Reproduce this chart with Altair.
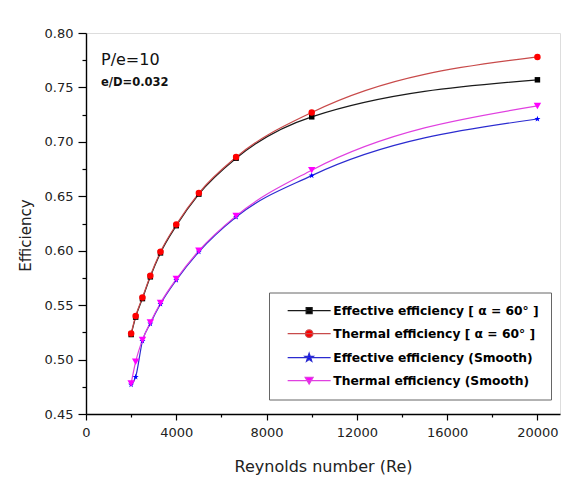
import altair as alt
import pandas as pd

# ---------------- data ----------------
re_values = [2000, 2200, 2500, 2850, 3300, 4000, 5000, 6650, 10000, 20000]
effective_60 = [0.523, 0.539, 0.556, 0.576, 0.598, 0.623, 0.652, 0.685, 0.723, 0.757]
thermal_60 = [0.524, 0.540, 0.557, 0.577, 0.599, 0.624, 0.653, 0.686, 0.727, 0.778]
effective_smooth = [0.477, 0.484, 0.517, 0.533, 0.551, 0.573, 0.599, 0.631, 0.669, 0.721]
thermal_smooth = [0.478, 0.498, 0.518, 0.534, 0.552, 0.574, 0.600, 0.632, 0.674, 0.733]

series_names = [
    "Effective efficiency [ α = 60° ]",
    "Thermal efficiency [ α = 60° ]",
    "Effective efficiency (Smooth)",
    "Thermal efficiency (Smooth)",
]
series_values = [effective_60, thermal_60, effective_smooth, thermal_smooth]

x_major_ticks = [0, 4000, 8000, 12000, 16000, 20000]
x_minor_ticks = [2000, 6000, 10000, 14000, 18000]
y_major_ticks = [0.45, 0.50, 0.55, 0.60, 0.65, 0.70, 0.75, 0.80]
y_minor_ticks = [0.475, 0.525, 0.575, 0.625, 0.675, 0.725, 0.775]

note_texts = ["P/e=10", "e/D=0.032"]
note_x = [664, 664]
note_y = [0.7755, 0.7543]

# ---------------- styles ----------------
FONT = "DejaVu Sans"
line_colors = ["#1a1a1a", "#c84a4a", "#2b2bd0", "#e040e0"]
marker_colors = ["#000000", "#ff0000", "#0000ff", "#ff00ff"]
STAR = ("M0,-1L0.235,-0.324L0.951,-0.309L0.38,0.124L0.588,0.809L0,0.4"
        "L-0.588,0.809L-0.38,0.124L-0.951,-0.309L-0.235,-0.324Z")
marker_shapes = ["square", "circle", STAR, "triangle-down"]
marker_sizes = [30, 42, 40, 55]

LINE = "M-4.3,0H4.3"
legend_paths = [
    LINE + "M-0.6,-0.6H0.6V0.6H-0.6Z",
    LINE + "M0.75,0A0.75,0.75,0,1,1,-0.75,0A0.75,0.75,0,1,1,0.75,0Z",
    LINE + "M0,-0.9L0.212,-0.292L0.856,-0.278L0.342,0.112L0.529,0.728L0,0.36"
           "L-0.529,0.728L-0.342,0.112L-0.856,-0.278L-0.212,-0.292Z",
    LINE + "M-0.8,-0.65H0.8L0,0.7Z",
]

rows = []
for name, vals in zip(series_names, series_values):
    for r, v in zip(re_values, vals):
        rows.append({"Re": r, "eff": v, "series": name})
df = pd.DataFrame(rows)
notes = pd.DataFrame({"x": note_x, "y": note_y, "text": note_texts})

xscale = alt.Scale(domain=[0, 21000], nice=False, zero=False)
yscale = alt.Scale(domain=[0.45, 0.80], nice=False, zero=False)

x_major_axis = alt.Axis(
    values=x_major_ticks, orient="bottom", format="d", grid=False,
    tickSize=6, tickColor="#000", tickWidth=1.2, domainColor="#000", domainWidth=1.4,
    labelFont=FONT, labelFontSize=13, labelColor="#222", labelPadding=6, labelFlush=False,
    title="Reynolds number (Re)", titleFont=FONT, titleFontSize=16,
    titleFontWeight="normal", titleColor="#222", titlePadding=19,
)
y_major_axis = alt.Axis(
    values=y_major_ticks, orient="left", format=".2f", grid=False,
    tickSize=8, tickColor="#000", tickWidth=1.2, domainColor="#000", domainWidth=1.4,
    labelFont=FONT, labelFontSize=13, labelColor="#222", labelPadding=5, labelFlush=False,
    title="Efficiency", titleFont=FONT, titleFontSize=15,
    titleFontWeight="normal", titleColor="#222", titlePadding=11, titleY=202,
)
x_minor_axis = alt.Axis(values=x_minor_ticks, orient="bottom", labels=False, domain=False,
                        grid=False, tickSize=3, tickColor="#000", tickWidth=1.2, title=None)
y_minor_axis = alt.Axis(values=y_minor_ticks, orient="left", labels=False, domain=False,
                        grid=False, tickSize=4, tickColor="#000", tickWidth=1.2, title=None)

base = alt.Chart(df)
layers = []

for i, (name, lc) in enumerate(zip(series_names, line_colors)):
    layers.append(
        base.transform_filter(alt.datum.series == name)
        .mark_line(color=lc, strokeWidth=1.2, interpolate="monotone")
        .encode(
            x=alt.X("Re:Q", scale=xscale, axis=x_major_axis if i == 0 else None),
            y=alt.Y("eff:Q", scale=yscale, axis=y_major_axis if i == 0 else None),
        )
    )

for name, mc, shp, sz in zip(series_names, marker_colors, marker_shapes, marker_sizes):
    layers.append(
        base.transform_filter(alt.datum.series == name)
        .mark_point(shape=shp, filled=True, size=sz, color=mc, opacity=1, strokeWidth=0)
        .encode(
            x=alt.X("Re:Q", scale=xscale, axis=None),
            y=alt.Y("eff:Q", scale=yscale, axis=None),
        )
    )

legend = alt.Legend(
    title=None, orient="none", legendX=183, legendY=259.5,
    padding=12, rowPadding=10, strokeColor="#666", fillColor="#ffffff",
    labelFont=FONT, labelFontSize=12.3, labelFontWeight="bold", labelColor="#000",
    labelLimit=400, symbolSize=100, symbolStrokeWidth=1.2,
    symbolFillColor="#000", symbolStrokeColor="#000",
    symbolOffset=22, labelOffset=18,
)

legend_layer = (
    base.transform_filter("false")
    .mark_point(filled=True, size=100, opacity=1)
    .encode(
        x=alt.X("Re:Q", scale=xscale, axis=x_minor_axis),
        y=alt.Y("eff:Q", scale=yscale, axis=y_minor_axis),
        color=alt.Color("series:N", scale=alt.Scale(domain=series_names, range=marker_colors), legend=legend),
        stroke=alt.Stroke("series:N", scale=alt.Scale(domain=series_names, range=line_colors), legend=legend),
        shape=alt.Shape("series:N", scale=alt.Scale(domain=series_names, range=legend_paths), legend=legend),
    )
)
layers.append(legend_layer)

note_base = alt.Chart(notes)
layers.append(
    note_base.transform_filter(alt.datum.text == note_texts[0])
    .mark_text(align="left", baseline="middle", font=FONT, fontSize=16, color="#111")
    .encode(x=alt.X("x:Q", scale=xscale, axis=None), y=alt.Y("y:Q", scale=yscale, axis=None), text="text:N")
)
layers.append(
    note_base.transform_filter(alt.datum.text == note_texts[1])
    .mark_text(align="left", baseline="middle", font=FONT, fontSize=11.5, fontWeight="bold", color="#111")
    .encode(x=alt.X("x:Q", scale=xscale, axis=None), y=alt.Y("y:Q", scale=yscale, axis=None), text="text:N")
)

chart = (
    alt.layer(*layers)
    .resolve_axis(x="independent", y="independent")
    .properties(
        width=474, height=381, autosize="none",
        padding={"left": 86, "top": 33, "right": 21, "bottom": 66},
    )
    .configure_view(stroke="#000", strokeWidth=1.4)
    .configure(background="#ffffff")
)

chart.save("out.html", embed_options={"renderer": "svg", "actions": False})
